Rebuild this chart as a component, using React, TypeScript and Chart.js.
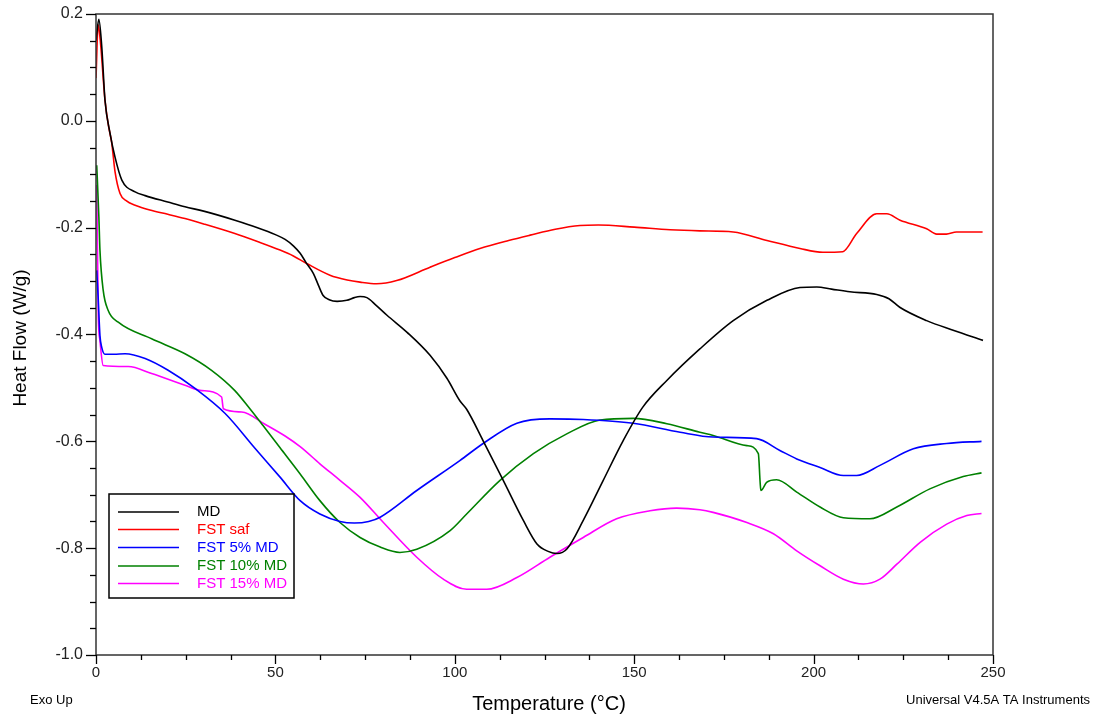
import React, { useEffect, useRef } from "react";
import { Chart, registerables } from "chart.js";

Chart.register(...registerables);

const seriesNames = ["MD", "FST saf", "FST 5% MD", "FST 10% MD", "FST 15% MD"];
const seriesColors = ["#000000", "#ff0000", "#0000ff", "#008000", "#ff00ff"];

const mdT = [0, 0.8, 1.6, 2.5, 3.9, 5.3, 7.2, 10.9, 13.7, 20, 24.8, 30, 38.7, 45, 50, 52.7, 55, 56.9, 58.5, 60.6, 62, 63.3, 65, 67.2, 69.9, 72, 73.6, 75.5, 78, 81.1, 86.7, 93.1, 97.8, 101.4, 103.3, 107.9, 113.5, 119.1, 122.9, 126, 128.5, 131.3, 135.8, 141.3, 146.9, 152.4, 159.1, 168.3, 177.6, 187, 196.2, 200.9, 205, 210.1, 217.6, 221, 224, 231.5, 238.9, 247.2];
const mdV = [0.15, 0.19, 0.139, 0.039, -0.023, -0.068, -0.111, -0.133, -0.14, -0.152, -0.161, -0.169, -0.186, -0.2, -0.213, -0.222, -0.234, -0.248, -0.265, -0.286, -0.308, -0.327, -0.335, -0.338, -0.336, -0.331, -0.329, -0.331, -0.345, -0.364, -0.396, -0.439, -0.482, -0.524, -0.54, -0.599, -0.673, -0.748, -0.792, -0.806, -0.81, -0.801, -0.748, -0.674, -0.599, -0.536, -0.486, -0.427, -0.374, -0.336, -0.312, -0.311, -0.315, -0.32, -0.325, -0.333, -0.349, -0.374, -0.392, -0.411];

const safT = [0, 0.6, 1.2, 2.5, 3.5, 4.4, 5.3, 6.7, 8.5, 10.9, 15, 20, 24.8, 30, 38.7, 45, 51.3, 55, 58.7, 65.2, 70, 73.6, 78.2, 83.8, 93.1, 100, 107, 115, 121, 128, 134.9, 140, 150, 160, 168.3, 177.6, 187, 196.2, 202.6, 208.1, 212, 217.6, 220.4, 224.1, 231.5, 234.3, 237, 239.8, 247.1];
const safV = [0.08, 0.18, 0.15, 0.039, -0.01, -0.042, -0.095, -0.136, -0.15, -0.158, -0.167, -0.175, -0.183, -0.193, -0.211, -0.226, -0.242, -0.253, -0.267, -0.289, -0.298, -0.302, -0.305, -0.299, -0.274, -0.256, -0.239, -0.224, -0.214, -0.203, -0.196, -0.195, -0.199, -0.204, -0.206, -0.208, -0.224, -0.239, -0.246, -0.245, -0.211, -0.174, -0.174, -0.186, -0.202, -0.212, -0.212, -0.208, -0.208];

const md5T = [0.2, 0.6, 1.1, 1.6, 2.5, 5, 8.1, 13.7, 20.1, 27.6, 36, 44.3, 51.3, 56.9, 62.4, 68, 72, 76, 79.2, 89.4, 101.4, 107.9, 117.3, 126.5, 135.8, 149.7, 162.8, 172, 184.1, 190.6, 195.3, 201.8, 208.3, 212, 218.5, 227.8, 237.1, 246.8];
const md5V = [-0.28, -0.33, -0.402, -0.424, -0.437, -0.437, -0.436, -0.445, -0.467, -0.501, -0.548, -0.613, -0.667, -0.711, -0.736, -0.75, -0.753, -0.75, -0.742, -0.692, -0.636, -0.604, -0.566, -0.558, -0.559, -0.566, -0.583, -0.592, -0.595, -0.617, -0.633, -0.649, -0.664, -0.664, -0.645, -0.614, -0.604, -0.6];

const md10T = [0.2, 0.8, 1.1, 2.0, 3.4, 6.2, 15.5, 24.8, 32.2, 38.7, 43, 46.5, 51.3, 56.9, 62.4, 68, 73.6, 79.2, 84.7, 89.4, 98.7, 103.3, 112.6, 121.9, 131.2, 140.5, 149.8, 159.1, 168.3, 172, 181.4, 184.6, 185.1, 185.3, 186.9, 189.7, 195.3, 201.8, 208.3, 215.7, 223.2, 232.4, 241.7, 246.8];
const md10V = [-0.083, -0.18, -0.242, -0.317, -0.355, -0.377, -0.408, -0.436, -0.467, -0.505, -0.54, -0.57, -0.612, -0.661, -0.711, -0.752, -0.78, -0.798, -0.808, -0.802, -0.767, -0.736, -0.673, -0.623, -0.586, -0.56, -0.557, -0.567, -0.583, -0.589, -0.608, -0.623, -0.677, -0.692, -0.677, -0.672, -0.695, -0.723, -0.743, -0.745, -0.723, -0.689, -0.666, -0.659];

const md15T = [0.2, 0.65, 1.1, 2.0, 9, 15.5, 24.8, 29.5, 35, 35.5, 40.6, 47.1, 52.7, 56.9, 62.4, 68, 73.6, 80.1, 89.4, 96.8, 103.3, 108.9, 117.3, 126.5, 135.8, 145.1, 154.4, 161.8, 168.3, 172, 181.4, 188.8, 195.3, 201.8, 208.3, 213.9, 218.5, 223.2, 229.7, 237.1, 242.7, 246.8];
const md15V = [-0.12, -0.367, -0.411, -0.458, -0.46, -0.473, -0.495, -0.505, -0.517, -0.539, -0.545, -0.568, -0.59, -0.61, -0.642, -0.673, -0.705, -0.752, -0.817, -0.858, -0.877, -0.877, -0.855, -0.817, -0.78, -0.745, -0.73, -0.725, -0.728, -0.733, -0.752, -0.773, -0.805, -0.833, -0.858, -0.867, -0.858, -0.83, -0.789, -0.755, -0.739, -0.735];

const xTitle = "Temperature (°C)";
const yTitle = "Heat Flow (W/g)";
const leftNote = "Exo Up";
const rightNote = "Universal V4.5A TA Instruments";

const FONT = "'Liberation Sans', Arial, sans-serif";

const allT = [mdT, safT, md5T, md10T, md15T];
const allV = [mdV, safV, md5V, md10V, md15V];

const decorPlugin = {
  id: "decor",
  afterDatasetsDraw(chart: any) {
    const ctx = chart.ctx;
    const a = chart.chartArea;
    const xs = chart.scales.x;
    const ys = chart.scales.y;
    ctx.save();
    // frame
    ctx.strokeStyle = "#333";
    ctx.lineWidth = 1.5;
    ctx.strokeRect(a.left, a.top, a.right - a.left, a.bottom - a.top);
    // ticks
    ctx.strokeStyle = "#000";
    ctx.lineWidth = 1.3;
    for (let i = 0; i <= 24; i++) {
      const v = -1 + i * 0.05;
      const y = Math.round(ys.getPixelForValue(v)) + 0.5;
      const len = i % 4 === 0 ? 10 : 6;
      ctx.beginPath();
      ctx.moveTo(a.left - len, y);
      ctx.lineTo(a.left, y);
      ctx.stroke();
    }
    for (let i = 0; i <= 20; i++) {
      const t = i * 12.5;
      const x = Math.round(xs.getPixelForValue(t)) + 0.5;
      const len = i % 4 === 0 ? 9 : 5;
      ctx.beginPath();
      ctx.moveTo(x, a.bottom);
      ctx.lineTo(x, a.bottom + len);
      ctx.stroke();
    }
    // legend
    const bx = 109, by = 494, bw = 185, bh = 104;
    ctx.fillStyle = "#fff";
    ctx.fillRect(bx, by, bw, bh);
    ctx.strokeStyle = "#000";
    ctx.lineWidth = 1.5;
    ctx.strokeRect(bx, by, bw, bh);
    const rows = [512, 529.5, 547.5, 566, 583.5];
    ctx.font = `15px ${FONT}`;
    ctx.textBaseline = "middle";
    ctx.textAlign = "left";
    seriesNames.forEach((n, i) => {
      ctx.strokeStyle = seriesColors[i];
      ctx.lineWidth = 1.5;
      ctx.beginPath();
      ctx.moveTo(118, rows[i]);
      ctx.lineTo(179, rows[i]);
      ctx.stroke();
      ctx.fillStyle = seriesColors[i];
      ctx.fillText(n, 197, rows[i]);
    });
    // titles
    ctx.fillStyle = "#000";
    ctx.font = `20px ${FONT}`;
    ctx.textAlign = "center";
    ctx.fillText(xTitle, 549, 704);
    ctx.save();
    ctx.translate(21, 338);
    ctx.rotate(-Math.PI / 2);
    ctx.font = `19px ${FONT}`;
    ctx.fillText(yTitle, 0, 0);
    ctx.restore();
    ctx.font = `13px ${FONT}`;
    ctx.textAlign = "left";
    ctx.fillText(leftNote, 30, 700);
    ctx.textAlign = "right";
    ctx.fillText(rightNote, 1090, 700);
    ctx.restore();
  },
};

export default function App() {
  const ref = useRef<HTMLCanvasElement | null>(null);
  useEffect(() => {
    document.body.style.margin = "0";
    const canvas = ref.current!;
    const chart = new Chart(canvas, {
      type: "line",
      data: {
        datasets: seriesNames.map((n, i) => ({
          label: n,
          data: allT[i].map((t, j) => ({ x: t, y: allV[i][j] })),
          borderColor: seriesColors[i],
          backgroundColor: seriesColors[i],
          borderWidth: 1.6,
          pointRadius: 0,
          cubicInterpolationMode: "monotone" as const,
          fill: false,
        })),
      },
      options: {
        responsive: false,
        animation: false,
        layout: { padding: { top: 14, right: 107, left: 0, bottom: 0 } },
        plugins: { legend: { display: false }, tooltip: { enabled: false } },
        scales: {
          x: {
            type: "linear",
            min: 0,
            max: 250,
            grid: { display: false, drawTicks: false },
            border: { display: false },
            ticks: {
              stepSize: 50,
              padding: 9,
              color: "#222",
              font: { family: FONT, size: 15 },
              maxRotation: 0,
            },
            afterFit: (s: any) => {
              s.height = 63;
              s.paddingLeft = 0;
              s.paddingRight = 0;
            },
          },
          y: {
            type: "linear",
            min: -1.0,
            max: 0.2,
            grid: { display: false, drawTicks: false },
            border: { display: false },
            ticks: {
              stepSize: 0.2,
              padding: 13,
              color: "#222",
              font: { family: FONT, size: 16 },
              callback: (v: any) => {
                const n = Number(v);
                return Math.abs(n) < 1e-9 ? "0.0" : n.toFixed(1);
              },
            },
            afterFit: (s: any) => {
              s.width = 96;
              s.paddingTop = 0;
              s.paddingBottom = 0;
            },
          },
        },
      },
      plugins: [decorPlugin],
    });
    return () => chart.destroy();
  }, []);
  return (
    <div style={{ width: 1100, height: 718 }}>
      <canvas ref={ref} width={1100} height={718} style={{ display: "block" }} />
    </div>
  );
}
